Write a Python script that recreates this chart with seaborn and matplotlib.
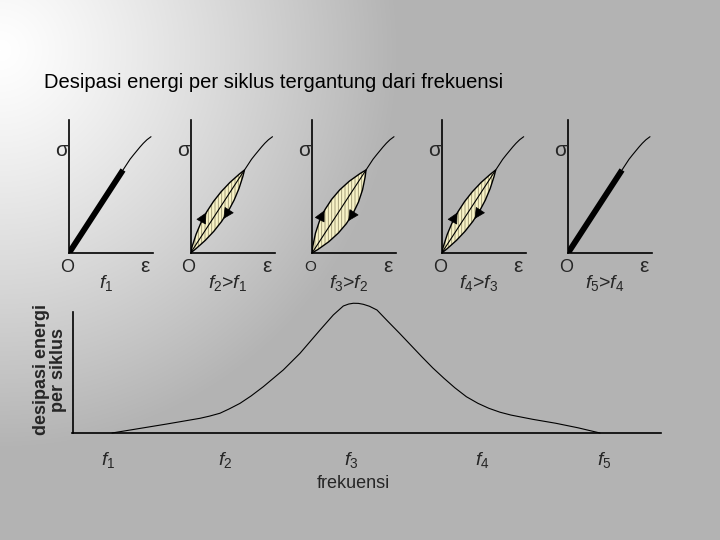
import numpy as np
import pandas as pd
import matplotlib
matplotlib.use('Agg')
import matplotlib.pyplot as plt
from matplotlib.path import Path
from matplotlib.patches import PathPatch
import seaborn as sns

# data -------------------------------------------------------------
title = 'Desipasi energi per siklus tergantung dari frekuensi'

# backbone sigma-epsilon curve (same for every panel, pixel-like units)
strain = [0.0, 54.0, 57.6, 61.0, 64.4, 67.7, 71.0, 74.3, 78.0, 82.0]
stress = [0.0, 83.0, 88.5, 93.7, 98.0, 102.0, 106.0, 109.7, 113.3, 116.3]
# half-width of hysteresis loop per panel (0 = no loop, thick line)
loop_width = [0, 9, 13, 9, 0]
panel_labels = [r'$f_1$', r'$f_2$>$f_1$', r'$f_3$>$f_2$', r'$f_4$>$f_3$', r'$f_5$>$f_4$']

# energy dissipation vs frequency
freq = [1.0, 1.448, 1.721, 1.80, 1.885, 1.96, 2.049, 2.140, 2.240, 2.404, 2.541, 2.705,
        2.814, 2.896, 2.94, 2.978, 3.02, 3.06, 3.11, 3.172, 3.26, 3.357, 3.45, 3.539,
        3.63, 3.721, 3.81, 3.905, 4.0, 4.089, 4.18, 4.27, 4.45, 4.637, 4.82, 5.0]
energy = [0.0, 0.069, 0.113, 0.130, 0.152, 0.185, 0.228, 0.285, 0.356, 0.485, 0.613, 0.792,
          0.908, 0.977, 0.992, 0.998, 0.997, 0.99, 0.975, 0.946, 0.86, 0.767, 0.675, 0.587,
          0.50, 0.421, 0.348, 0.279, 0.228, 0.19, 0.16, 0.138, 0.105, 0.075, 0.04, 0.0]
freq_ticks = [0.967, 1.926, 2.959, 4.033, 5.033]
freq_tick_labels = [r'$f_1$', r'$f_2$', r'$f_3$', r'$f_4$', r'$f_5$']

# style -------------------------------------------------------------
sns.set_style('white')
plt.rcParams['font.family'] = ['Liberation Sans', 'DejaVu Sans']
plt.rcParams['mathtext.fontset'] = 'custom'
plt.rcParams['mathtext.it'] = 'Liberation Sans:italic'
plt.rcParams['mathtext.rm'] = 'Liberation Sans'
plt.rcParams['hatch.linewidth'] = 0.6

W, H = 720, 540
fig = plt.figure(figsize=(7.2, 5.4), dpi=100)

# gradient background
bg = fig.add_axes([0, 0, 1, 1], zorder=-5)
yy, xx = np.mgrid[0:H, 0:W]
d = np.sqrt(xx ** 2 + (yy - 50) ** 2) / 400.0
g = 255 - 76 * np.clip(d, 0, 1) ** 1.2
bg.imshow(np.dstack([g, g, g]).astype(np.uint8), aspect='auto', extent=[0, W, H, 0])
bg.set_axis_off()

fig.text(44 / W, 1 - 83 / H, title, fontsize=14.5, ha='left', va='center', color='k')

# small sigma-epsilon panels
panel_left = [69, 190.5, 312, 441.7, 568]
bb = pd.DataFrame({'strain': strain, 'stress': stress})
for i, (left, w) in enumerate(zip(panel_left, loop_width)):
    ax = fig.add_axes([left / W, 1 - 253 / H, 84 / W, 133 / H])
    ax.set_xlim(0, 84)
    ax.set_ylim(0, 133)
    ax.patch.set_alpha(0)
    for s in ['top', 'right']:
        ax.spines[s].set_visible(False)
    for s in ['left', 'bottom']:
        ax.spines[s].set_color('k')
        ax.spines[s].set_linewidth(1.2)
    ax.set_xticks([])
    ax.set_yticks([])

    sns.lineplot(data=bb.iloc[1:], x='strain', y='stress', sort=False, color='k',
                 lw=0.8, ax=ax, legend=False)
    apex = np.array([strain[1], stress[1]])
    if w == 0:
        sns.lineplot(data=bb.iloc[:2], x='strain', y='stress', sort=False, color='k',
                     lw=4.2, ax=ax, legend=False, solid_capstyle='butt')
    else:
        mid = apex / 2
        n = np.array([-apex[1], apex[0]]) / np.linalg.norm(apex)
        c_up = mid + 2 * w * n
        c_dn = mid - 2 * w * n
        o = np.array([0.0, 0.0])
        verts = [o, c_up, apex, c_dn, o, o]
        codes = [Path.MOVETO, Path.CURVE3, Path.CURVE3, Path.CURVE3, Path.CURVE3, Path.CLOSEPOLY]
        path = Path(verts, codes)
        ax.add_patch(PathPatch(path, facecolor='#f7f2c6', edgecolor='#9a9470',
                               hatch='|||||', lw=0, zorder=2))
        ax.add_patch(PathPatch(path, facecolor='none', edgecolor='k', lw=1.0, zorder=3))
        ax.plot([0, apex[0]], [0, apex[1]], color='k', lw=0.8, zorder=3)
        # direction arrows on loop
        for c, t, sgn in [(c_up, 0.4, 1), (c_dn, 0.5, -1)]:
            p = 2 * t * (1 - t) * c + t ** 2 * apex
            dv = 2 * (1 - t) * c + 2 * t * (apex - c)
            dv = sgn * dv / np.linalg.norm(dv)
            ax.annotate('', xy=p + 3 * dv, xytext=p - 3 * dv,
                        arrowprops=dict(arrowstyle='-|>,head_length=0.7,head_width=0.35',
                                        color='k', lw=0.5, shrinkA=0, shrinkB=0),
                        zorder=4)

    ax.text(-7, 103, 'σ', fontsize=15, ha='center', va='center')
    ax.text(76, -14, 'ε', fontsize=15, ha='center', va='center')
    ax.text(-2, -14, 'O', fontsize=13 if i != 2 else 11, ha='center', va='center')
    ax.text(37, -30, panel_labels[i], fontsize=14, ha='center', va='center')

# energy vs frequency
ax2 = fig.add_axes([72.5 / W, 1 - 433 / H, (661 - 72.5) / W, (433 - 311.6) / H])
ax2.patch.set_alpha(0)
df = pd.DataFrame({'freq': freq, 'energy': energy})
sns.lineplot(data=df, x='freq', y='energy', color='k', lw=0.8, ax=ax2, sort=False,
             legend=False, clip_on=False)
ax2.set_xlim(1 + (72.5 - 112) / 122, 1 + (661 - 112) / 122)
ax2.set_ylim(0, (433 - 311.6) / 130)
for s in ['top', 'right']:
    ax2.spines[s].set_visible(False)
for s in ['left', 'bottom']:
    ax2.spines[s].set_color('k')
    ax2.spines[s].set_linewidth(1.2)
ax2.set_yticks([])
ax2.set_xticks(freq_ticks, freq_tick_labels, fontsize=14)
ax2.tick_params(axis='x', length=0, pad=12)
ax2.set_xlabel('')
ax2.set_ylabel('')
ax2.text(0.477, -0.42, 'frekuensi', transform=ax2.transAxes, fontsize=13,
         ha='center', va='center')
ax2.text(-0.038, 0.52, 'desipasi energi\nper siklus', transform=ax2.transAxes,
         fontsize=13, fontweight='bold', rotation=90, ha='center', va='center',
         multialignment='center', linespacing=1.05)

fig.savefig('out.png', dpi=100)
